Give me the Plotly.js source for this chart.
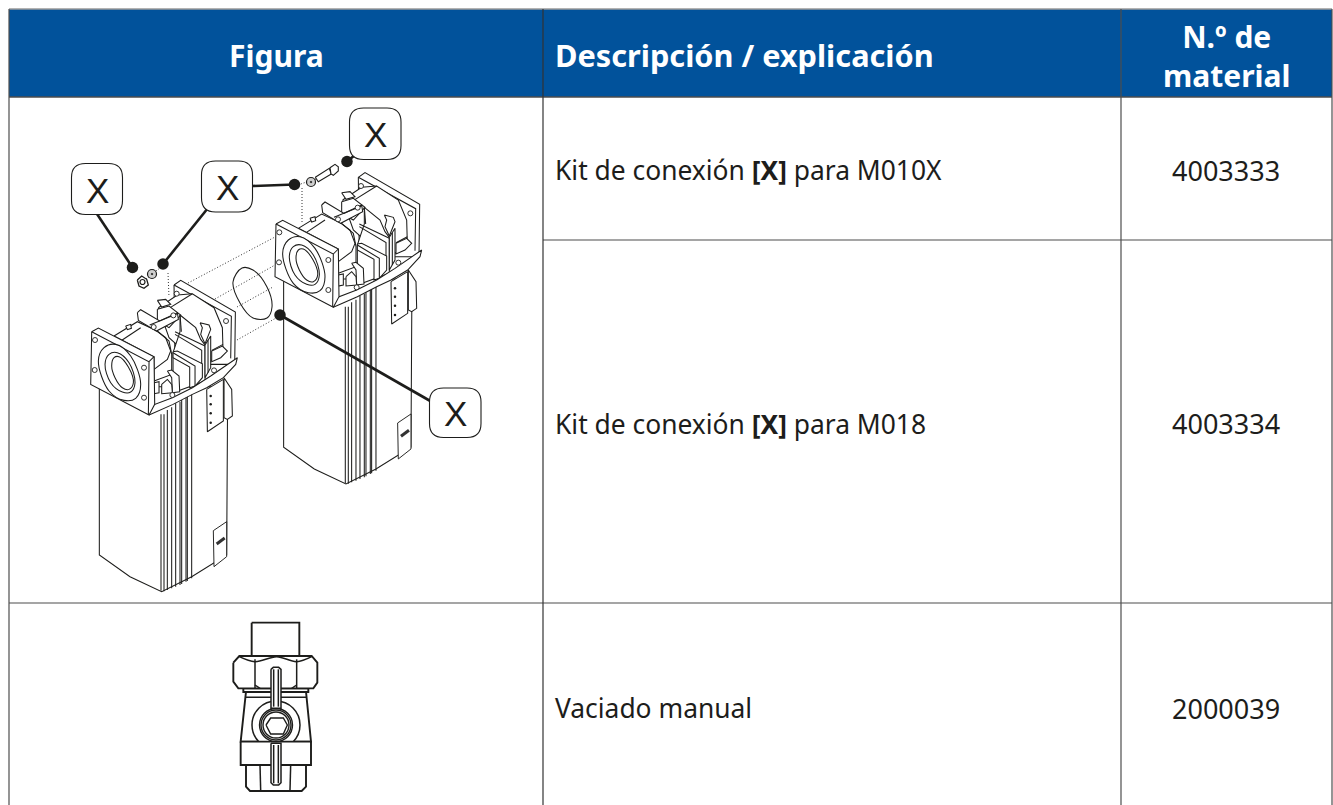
<!DOCTYPE html>
<html><head><meta charset="utf-8">
<script src="https://cdn.plot.ly/plotly-3.0.1.min.js"></script>
<style>html,body{margin:0;padding:0;background:#fff}#c{width:1333px;height:805px}</style>
</head><body><div id="c"></div>
<script>
// ---- table content ----
const headerLabels = ["Figura", "Descripción / explicación", "N.º de<br>material"];
const descriptions = ["Kit de conexión <b>[X]</b> para M010X", "Kit de conexión <b>[X]</b> para M018", "Vaciado manual"];
const materialNumbers = ["4003333", "4003334", "2000039"];
const calloutLabel = "X";
const columnEdges = [9, 543, 1121, 1332];
const rowEdges = [97, 240, 603, 805];
const headerTop = 9;
const rowCentres = [170, 423.5, 708];
const columnCentres = [276, 552.5, 1226];
const headerBlue = "#01529b";
const ink = "#1d1d1b";

// ---- callouts ----
const calloutBoxes = [[71.5,163.5,122.5,214.5],[201.5,161,252.5,212],[349.5,108,401,159.5],[429.5,388,481,437.5]];
const leaders = [[97,214,132.5,267.5],[208,208,163,264],[252,186,294.5,184.5],[355,155,347,161.5],[432,402,280,315]];
const leaderDots = [[132.5,267.5],[163,264],[294.5,184.5],[347,161.5],[280,315]];
const dottedLines = [[188,283,275,237],[215,299,275,265],[237,307,273,287],[237,340,285,313],[168,273,169,297],[302,188,302,222],[146,279,149,277],[156,271,160,268],[316,179,299,184.5]];

// ---- pump head, in a 3x local grid (ox 270, oy 100 on the rear pump) ----
const H = {
 rearFlange:[265,232,285,218,449,313,447,470,268,470,265,232],
 rearInner:[265,232,437,326,435,452],
 tubeRear:[218,300,275,262,320,258,385,300,410,360,412,430,350,480,250,390,218,300],
 tubeLine:[245,305,320,258],
 sideA:[378,428,412,410],
 block:[215,278,240,275,255,290,228,298,215,278],
 boss:[215,305,250,295,285,322,250,360,215,340,215,305],
 tubeFront:[85,385,155,342,215,370,250,400,258,440,258,500,205,520,205,447,85,385],
 tubeFrontLine:[105,400,165,360],
 bump:[120,355,135,350,137,362,125,366,120,355],
 dome:[210,368,240,390,255,430,245,455,205,485],
 bracket:[155,315,165,306,222,340,275,315,278,335,212,370,158,338,155,315],
 bracketLine:[192,352,275,318],
 ribBack:[283,322,330,360,345,395,358,412,358,520,262,555,262,435,283,372,283,322],
 ribDiagA:[268,372,358,415],
 ribDiagB:[268,380,348,428,348,470],
 ribPost:[283,322,287,372],
 claw:[343,345,370,352,375,365,358,408,345,380,350,360,343,345],
 wing:[358,412,375,385,375,480,358,510,358,412],
 wingLine:[367,398,367,495],
 small:[378,430,410,415,425,430,405,450,378,462,378,430],
 fin:[262,432,275,430,350,468,350,510,328,535,312,540,312,478,262,450,262,432],
 finLine:[262,435,328,475,328,535],
 post:[245,490,258,487,280,505,282,552,260,555,258,510,245,490],
 postBase:[228,530,245,515,258,530,260,555,228,558,228,530],
 tab:[205,525,220,522,220,555,205,558,205,525],
 base:[190,622,192,596,260,570,320,540,375,505,447,455,455,450,450,470,413,510,363,540,320,560,262,590,190,622],
 plate:[363,545,413,515,413,640,365,672,363,545],
 handle:[415,510,438,545,440,625,425,635,415,630,415,510],
 flange:[18,372,38,361,205,447,207,590,190,622,15,530,18,372],
 flangeEdge:[18,372,190,462,188,620],
 flangeEdge2:[190,462,205,447],
 ringOuter:[38,460,55,420,90,410,135,445,165,530,150,572,115,578,70,550,38,460],
 ringMid:[58,470,70,440,95,435,130,465,148,525,135,553,110,553,75,525,58,470],
 ringInner:[78,475,85,450,100,447,128,478,143,525,130,545,110,540,88,510,78,475]
};
const headHoles = [[273,258],[421,340],[28,397],[175,480],[175,570],[27,487],[385,488],[260,562],[263,323],[204,358]];
const plateDots = [[375,565],[375,590],[375,617],[375,645]];

// ---- pump body, in a 3x local grid (ox 80, oy 320 on the front pump) ----
const B = {
 shell:[58,200,58,705,150,770,245,815,335,770,440,705,443,200,58,200],
 ribs:[243,252,262,275,287,300,305,318,322,335],
 tag:[400,632,440,605,440,710,402,740,400,632]
};
const ribTops = [283,283,270,262,250,245,240,230,228,222];
const ribBottoms = [812,814,810,805,800,795,792,785,783,775];
const pumpShift = [184.3,-107.7];

// ---- hardware ----
const oRing = [233,282,242,268,253,270,267,287,272,307,267,318,253,318,240,303,233,282];
const nutOuter = [137.3,280,141.7,276,146.7,279.3,148.3,285,144,288.3,139,286,137.3,280];
const washers = [[152,274],[311,182]];
const nut = [[142.5,282]];
const bolt = [315.3,177.3,329.3,168.3,331.3,174,318.3,181.7,315.3,177.3];
const boltHead = [330,167.7,335,164.3,338.3,166.7,338.3,171,333.3,175.3,331,174,330,167.7];

// ---- valve, in a 3x local grid (ox 200, oy 610) ----
const V = {
 stem:[155,38,298,38,298,138,155,138,155,38],
 body:[138,245,122,395,333,395,318,245,138,245],
 bodyLine:[138,262,318,262],
 skirt:[138,465,138,530,150,543,305,543,318,530,318,465,138,465],
 band:[122,395,333,395,333,465,122,465,122,395],
 skirtA:[180,465,182,540],
 skirtB:[272,465,270,540],
 collar:[130,235,325,235,325,246,130,246,130,235],
 nutBody:[100,158,118,138,335,138,352,158,352,218,340,235,115,235,100,215,100,158],
 nutA:[165,148,165,235],
 nutB:[290,148,290,235],
 nutArc:[118,140,165,155,230,140,290,155,335,140],
 nutFootA:[165,225,180,235],
 nutFootB:[290,225,275,235],
 hex:[198,345,212,324,250,324,262,345,250,372,212,372,198,345]
};
const valveOuterDisc = [[228,345,48]];
const valveRings = [[228,345,33],[228,345,30],[228,345,26]];
const valveHandles = {
 upper:[213,178,220,172,236,172,243,178,243,295,213,295,213,178],
 upperIn:[221,178,221,290],
 upperIn2:[235,178,235,290],
 lower:[213,400,243,400,243,518,236,525,220,525,213,518,213,400],
 lowerIn:[221,405,221,520],
 lowerIn2:[235,405,235,520]
};

// ---- helpers: every mark below is handed to the library as data ----
const traces = [];
function line(xs, ys, width, color, dash, fill, spline){
  traces.push({type:"scatter", mode:"lines", x:xs, y:ys, hoverinfo:"skip", showlegend:false,
    line:{color:color||ink, width:width, dash:dash||"solid", shape:spline?"spline":"linear"},
    fill:fill?"toself":"none", fillcolor:fill===true?"#ffffff":(fill||undefined)});
}
function split(flat, fx, fy){const xs=[],ys=[];for(let i=0;i<flat.length;i+=2){xs.push(fx(flat[i]));ys.push(fy(flat[i+1]));}return [xs,ys];}
const id=v=>v;
function dots(pts,size,color,lineW,symbol){traces.push({type:"scatter",mode:"markers",x:pts.map(p=>p[0]),y:pts.map(p=>p[1]),hoverinfo:"skip",showlegend:false,
    marker:{size:size,color:color,symbol:symbol||"circle",line:{color:ink,width:lineW}}});}

function drawPump(dx, dy){
  const hx=v=>v/3+270-pumpShift[0]+dx, hy=v=>v/3+100-pumpShift[1]+dy;
  const bx=v=>v/3+80+dx, by=v=>v/3+320+dy;
  const w=1.05;
  const body=split(B.shell,bx,by); line(body[0],body[1],w,ink,null,true);
  B.ribs.forEach((r,i)=>line([bx(r),bx(r)],[by(ribTops[i]),by(ribBottoms[i])],w));
  const tag=split(B.tag,bx,by); line(tag[0],tag[1],w*0.9,ink,null,true);
  line([bx(410),bx(434)],[by(672),by(654)],3,"#333");
  const filled=["rearFlange","tubeRear","block","boss","tubeFront","bump","bracket","ribBack","claw","wing","small","fin","post","postBase","tab","handle","base","plate","flange"];
  const rest={rearFlange:["rearInner"],tubeRear:["tubeLine","sideA"],tubeFront:["tubeFrontLine","dome"],bracket:["bracketLine"],ribBack:["ribDiagA","ribDiagB","ribPost"],wing:["wingLine"],fin:["finLine"],flange:["flangeEdge","flangeEdge2"]};
  filled.forEach(k=>{
    const p=split(H[k],hx,hy); line(p[0],p[1],w,ink,null,true);
    (rest[k]||[]).forEach(n=>{const q=split(H[n],hx,hy);line(q[0],q[1],w);});
  });
  ["ringOuter","ringMid","ringInner"].forEach(k=>{const p=split(H[k],hx,hy);line(p[0],p[1],w,ink,null,k==="ringOuter"||k==="ringMid",true);});
  dots(headHoles.map(p=>[hx(p[0]),hy(p[1])]),5,"#fff",0.9);
  dots(plateDots.map(p=>[hx(p[0]),hy(p[1])]),2.5,ink,0);
}

// header band and table grid
line([columnEdges[0],columnEdges[3],columnEdges[3],columnEdges[0],columnEdges[0]],[headerTop,headerTop,rowEdges[0],rowEdges[0],headerTop],0,headerBlue,null,headerBlue);
line([columnEdges[0],columnEdges[3]],[headerTop,headerTop],1.4,"#9a9a9a");
line([columnEdges[0],columnEdges[3]],[rowEdges[0],rowEdges[0]],1.4,"#4d4d4d");
line([columnEdges[1],columnEdges[3]],[rowEdges[1],rowEdges[1]],1.2,"#4d4d4d");
line([columnEdges[0],columnEdges[3]],[rowEdges[2],rowEdges[2]],1.2,"#4d4d4d");
line([columnEdges[0],columnEdges[0]],[headerTop,rowEdges[3]],1.2,"#4d4d4d");
line([columnEdges[1],columnEdges[1]],[headerTop,rowEdges[3]],1.2,"#333333");
line([columnEdges[2],columnEdges[2]],[headerTop,rowEdges[3]],1.2,"#4d4d4d");
line([columnEdges[3],columnEdges[3]],[headerTop,rowEdges[3]],1.2,"#4d4d4d");

// exploded pump drawing
drawPump(pumpShift[0],pumpShift[1]);
dottedLines.forEach(d=>line([d[0],d[2]],[d[1],d[3]],1,"#333",'1px,2px'));
{const p=split(oRing,id,id);line(p[0],p[1],1.05,ink,null,false,true);}
drawPump(0,0);
{const p=split(nutOuter,id,id);line(p[0],p[1],1.3,ink,null,true);}
dots(nut,5,"#fff",1.2);
dots(washers,9,"#cfcfcf",1.2,"circle-dot");
{const p=split(bolt,id,id);line(p[0],p[1],1.1,ink,null,true);}
{const p=split(boltHead,id,id);line(p[0],p[1],1.1,ink,null,true);}
leaders.forEach(l=>line([l[0],l[2]],[l[1],l[3]],2.6));
dots(leaderDots,11.5,ink,0);

// valve
const vx=v=>v/3+200, vy=v=>v/3+610;
const vp=k=>split(V[k],vx,vy);
["stem","skirt","body"].forEach(k=>{const p=vp(k);line(p[0],p[1],1.9,ink,null,true);});
dots(valveOuterDisc.map(d=>[vx(d[0]),vy(d[1])]),valveOuterDisc[0][2],"#fff",1.5);
["band","collar","nutBody"].forEach(k=>{const p=vp(k);line(p[0],p[1],1.9,ink,null,true);});
["bodyLine","skirtA","skirtB","nutA","nutB","nutFootA","nutFootB"].forEach(k=>{const p=vp(k);line(p[0],p[1],1.5);});
{const p=vp("nutArc");line(p[0],p[1],1.5,ink,null,false,true);}
valveRings.forEach(r=>dots([[vx(r[0]),vy(r[1])]],r[2],"#fff",1.4));
{const p=vp("hex");line(p[0],p[1],1.4,ink,null,true);}
Object.keys(valveHandles).forEach(k=>{const p=split(valveHandles[k],vx,vy);line(p[0],p[1],1.5,ink,null,k==="upper"||k==="lower");});

// callout boxes
function roundBox(b,r){const [x0,y0,x1,y1]=b;return `M${x0+r},${y0}L${x1-r},${y0}Q${x1},${y0} ${x1},${y0+r}L${x1},${y1-r}Q${x1},${y1} ${x1-r},${y1}L${x0+r},${y1}Q${x0},${y1} ${x0},${y1-r}L${x0},${y0+r}Q${x0},${y0} ${x0+r},${y0}Z`;}
const shapes = calloutBoxes.map(b=>({type:"path",path:roundBox(b,14),xref:"x",yref:"y",fillcolor:"#fff",line:{color:ink,width:1.1},layer:"above"}));

// text
const bodyFont={family:"Noto Sans, sans-serif",size:26.4,color:"#1d1d1b"};
const numFont={family:"Noto Sans, sans-serif",size:27,color:"#1d1d1b"};
const headFont={family:"Noto Sans, sans-serif",size:30,color:"#ffffff"};
const headFontWide={family:"Noto Sans, sans-serif",size:30.7,color:"#ffffff"};
const annotations=[];
function note(x,y,t,anchor,font){annotations.push({x:x,y:y,text:t,xref:"x",yref:"y",xanchor:anchor,yanchor:"middle",showarrow:false,font:font,align:"center"});}
note(columnCentres[0],55,"<b>"+headerLabels[0]+"</b>","center",headFont);
note(columnCentres[1],55,"<b>"+headerLabels[1]+"</b>","left",headFontWide);
note(columnCentres[2],56,"<b>"+headerLabels[2].replace("<br>","</b><br><b>")+"</b>","center",headFont);
descriptions.forEach((d,i)=>note(columnCentres[1],rowCentres[i],d,"left",bodyFont));
materialNumbers.forEach((d,i)=>note(columnCentres[2],rowCentres[i],d,"center",numFont));
calloutBoxes.forEach(b=>note((b[0]+b[2])/2,(b[1]+b[3])/2+1,calloutLabel,"center",{family:"Liberation Sans, sans-serif",size:35,color:"#1d1d1b"}));

Plotly.newPlot("c",traces,{
  width:1333,height:805,margin:{l:0,r:0,t:0,b:0},paper_bgcolor:"#fff",plot_bgcolor:"#fff",showlegend:false,
  xaxis:{range:[0,1333],visible:false,fixedrange:true},
  yaxis:{range:[805,0],visible:false,fixedrange:true},
  shapes:shapes,annotations:annotations
},{displayModeBar:false,staticPlot:true});
</script></body></html>
